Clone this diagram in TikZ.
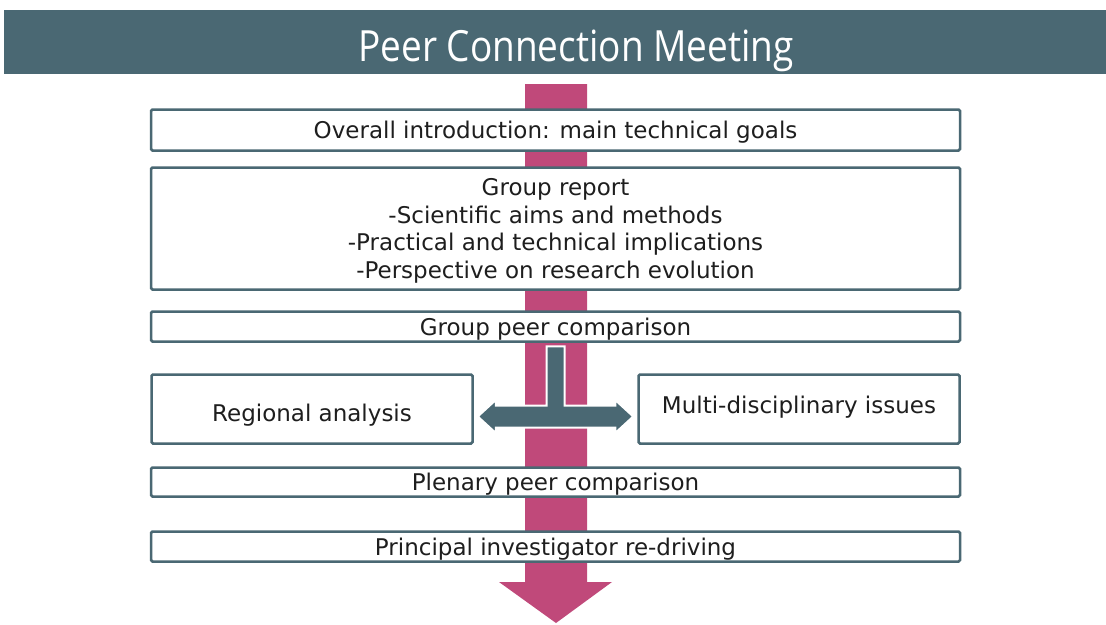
\documentclass[tikz,border=0pt]{standalone}
\usepackage{fontspec}
\setmainfont{DejaVu Sans}
\newfontfamily\titlefont[FakeStretch=0.86]{Open Sans}
\usetikzlibrary{calc}
\definecolor{slate}{HTML}{4A6873}
\definecolor{rose}{HTML}{C0497A}
\definecolor{ink}{HTML}{1E1E1E}
\begin{document}
\begin{tikzpicture}[x=1pt,y=-1pt,
  box/.style={draw=slate, line width=2.5pt, fill=white, rounded corners=1.5pt, inner sep=0pt,
    font=\fontsize{23}{27.8}\selectfont, text=ink, align=center, text depth=0pt},
  wide/.style={box, minimum width=809pt},
  side/.style={box, minimum width=321pt, minimum height=69pt}
]
\useasboundingbox (0,0) rectangle (1106,624);
\fill[white] (0,0) rectangle (1106,624);
% banner
\fill[slate] (4,10) rectangle (1106,74);
\node[text=white, inner sep=0pt, anchor=base, font=\titlefont\fontsize{43}{50}\selectfont] (title) at (576,61.5) {Peer Connection Meeting};
% main flow arrow
\coordinate (flowtop) at (556,84);
\coordinate (flowend) at (556,623);
\fill[rose] ($(flowtop)+(-31,0)$) -- ($(flowtop)+(31,0)$) -- ($(flowend)+(31,-41)$) -- ($(flowend)+(56,-41)$)
  -- (flowend) -- ($(flowend)+(-57,-41)$) -- ($(flowend)+(-31,-41)$) -- cycle;
% boxes
\node[wide, minimum height=41pt] (b1) at (555.5,130) {Overall introduction: main technical goals};
\node[wide, minimum height=122pt] (b2) at (555.5,228.5) {Group report\\-Scientific aims and methods\\-Practical and technical implications\\-Perspective on research evolution};
\node[wide, minimum height=30pt] (b3) at (555.5,326.5) {Group peer comparison};
\node[side, text height=25.4pt] (reg) at (312,409) {Regional analysis};
\node[side, text height=17.5pt, text depth=9pt] (multi) at (799,409) {Multi-disciplinary issues};
\node[wide, minimum height=29pt] (b5) at (555.5,482) {Plenary peer comparison};
\node[wide, minimum height=30pt] (b6) at (555.5,546.5) {Principal investigator re-driving};
% T-shaped split arrow
\coordinate (tipL) at ($(reg.east)+(4,7.5)$);
\coordinate (tipR) at ($(multi.west)+(-4,7.5)$);
\coordinate (stemtop) at ($(b3.south)+(0,3.5)$);
\filldraw[fill=slate, draw=white, line width=2pt, line join=miter]
  (tipL) -- ++(18,-16.5) -- ++(0,5.5) -- ($(stemtop|-tipL)+(-9,-11)$) -- ($(stemtop)+(-9,0)$)
  -- ($(stemtop)+(9,0)$) -- ($(stemtop|-tipL)+(9,-11)$) -- ($(tipR)+(-18,-11)$) -- ++(0,-5.5)
  -- (tipR) -- ++(-18,16.5) -- ++(0,-5.5) -- ($(tipL)+(18,11)$) -- ++(0,5.5) -- cycle;
\end{tikzpicture}
\end{document}
